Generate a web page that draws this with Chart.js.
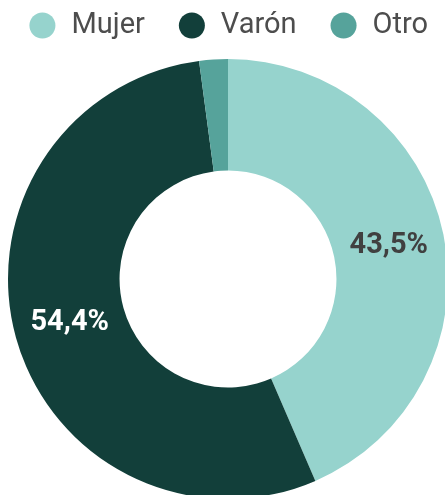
<!DOCTYPE html>
<html><head><meta charset="utf-8">
<script src="https://cdn.jsdelivr.net/npm/chart.js@4/dist/chart.umd.min.js"></script>
<style>
html,body{margin:0;padding:0;overflow:hidden;background:#fff;}
#wrap{position:absolute;left:-12px;top:0;width:480px;height:508px;}
</style></head>
<body>
<div id="wrap"><canvas id="c"></canvas></div>
<script>
const categories = ["Mujer", "Varón", "Otro"];
const values = [43.5, 54.4, 2.1];
const colors = ["#96d3cd", "#123f3a", "#56a39b"];
const labelColors = ["#404040", "#ffffff", null];

const sliceLabels = {
  id: 'sliceLabels',
  afterDatasetsDraw(chart) {
    const ctx = chart.ctx;
    const meta = chart.getDatasetMeta(0);
    ctx.save();
    ctx.font = "bold 29px Roboto";
    ctx.textAlign = "center";
    ctx.textBaseline = "middle";
    meta.data.forEach((arc, i) => {
      if (!labelColors[i]) return;
      const p = arc.tooltipPosition();
      ctx.fillStyle = labelColors[i];
      ctx.fillText(values[i].toFixed(1).replace('.', ',') + '%', p.x, p.y);
    });
    ctx.restore();
  }
};

new Chart(document.getElementById('c'), {
  type: 'doughnut',
  data: {
    labels: categories,
    datasets: [{ data: values, backgroundColor: colors, borderWidth: 0 }]
  },
  options: {
    responsive: true,
    maintainAspectRatio: false,
    animation: false,
    radius: 220,
    cutout: '49.3%',
    layout: { padding: { top: -21.5, left: 0, right: 0, bottom: 0 } },
    plugins: {
      tooltip: { enabled: false },
      legend: {
        position: 'top',
        labels: {
          usePointStyle: true,
          pointStyle: 'circle',
          boxHeight: 18.4,
          color: '#4d4d4d',
          font: { family: 'Roboto', size: 29 },
          padding: 32.5
        }
      }
    }
  },
  plugins: [sliceLabels]
});
</script>
</body></html>
